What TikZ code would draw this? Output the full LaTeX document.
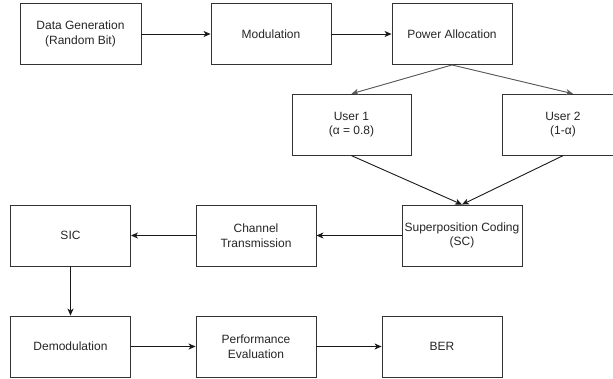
\documentclass[tikz,border=0pt]{standalone}
\usepackage{fontspec}
\setmainfont{Liberation Sans}
\usetikzlibrary{arrows.meta}

\begin{document}
\begin{tikzpicture}[x=1pt,y=-1pt,
    box/.style={draw=black!80,line width=0.9pt,rectangle,minimum width=120pt,minimum height=61pt,
      inner sep=1pt,align=center,font=\fontsize{12}{14.5}\selectfont,text=black!85},
    arr/.style={-{Stealth[length=7pt,width=6pt,inset=2pt]},line width=0.9pt,black!90},
    grr/.style={arr,draw=black!65,fill=black!65}]
  \useasboundingbox (0,0) rectangle (613,378);
  \clip (0,0) rectangle (613,378);
  \fill[white] (0,0) rectangle (613,378);

  % Transmitter side
  \node[box,minimum width=121pt] (datagen) at (80.5,34) {Data Generation\\(Random Bit)};
  \node[box] (modul) at (271,34) {Modulation};
  \node[box] (power) at (452,34) {Power Allocation};

  % Users
  \node[box,minimum width=119pt] (user1) at (351.5,124.7) {User 1\\(α = 0.8)};
  \node[box,minimum width=122pt] (user2) at (563,124.7) {User 2\\(1-α)};

  % Channel and receiver
  \node[box] (sc) at (462,235.5) {Superposition Coding\\(SC)};
  \node[box] (chan) at (256,235.5) {Channel\\Transmission};
  \node[box] (sic) at (70.5,235.5) {SIC};

  % Evaluation
  \node[box] (demod) at (70.5,346.5) {Demodulation};
  \node[box] (perf) at (256,346.5) {Performance\\Evaluation};
  \node[box] (ber) at (442,346.5) {BER};

  % Connections
  \draw[arr] (datagen) -- (modul);
  \draw[arr] (modul) -- (power);
  \draw[grr] (power.south) -- (user1.north);
  \draw[grr] (power.south) -- ([xshift=10pt]user2.north);
  \draw[arr] (user1.south) -- (sc.north);
  \draw[arr] (user2.south) -- (sc.north);
  \draw[arr] (sc) -- (chan);
  \draw[arr] (chan) -- (sic);
  \draw[arr] (sic) -- (demod);
  \draw[arr] (demod) -- (perf);
  \draw[arr] (perf) -- (ber);
\end{tikzpicture}
\end{document}
